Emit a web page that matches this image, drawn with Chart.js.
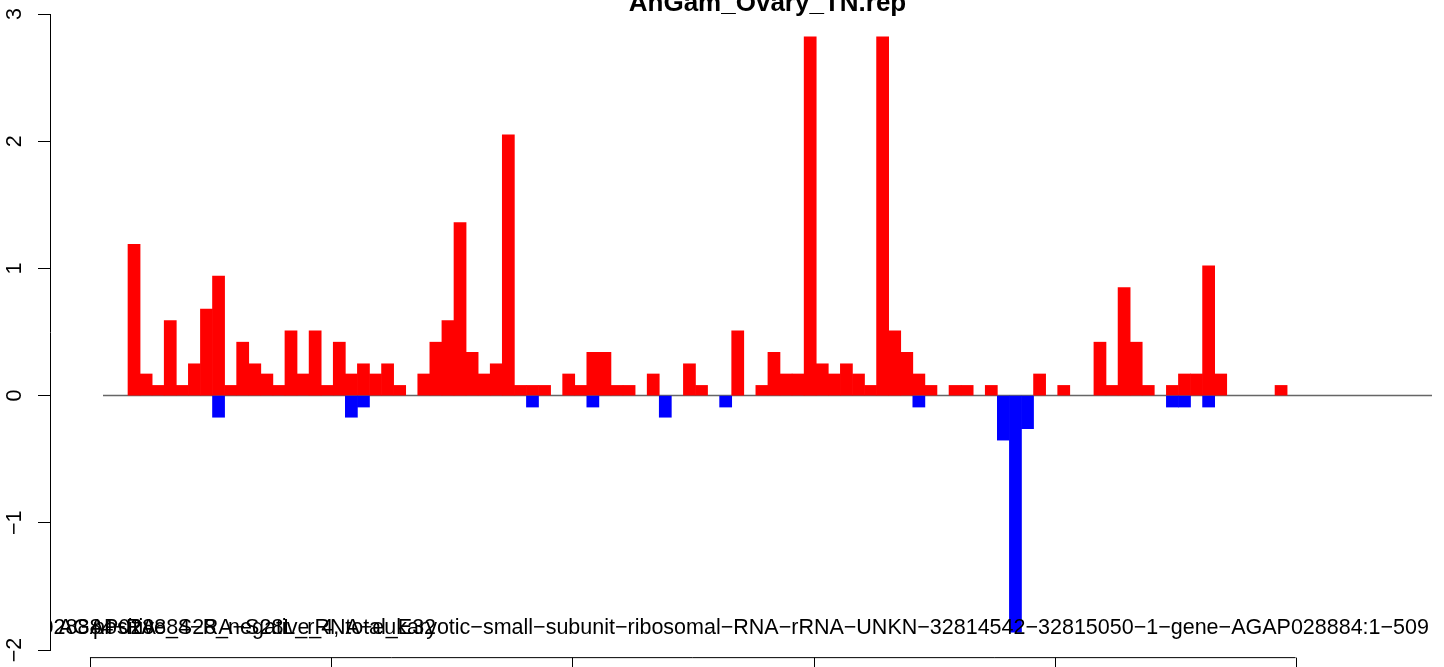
<!DOCTYPE html>
<html>
<head>
<meta charset="utf-8">
<script src="https://cdn.jsdelivr.net/npm/chart.js@4.4.1/dist/chart.umd.min.js"></script>
<style>
html, body { margin: 0; padding: 0; background: #fff; overflow: hidden; }
</style>
</head>
<body>
<canvas id="rep_chart" width="1444" height="667"></canvas>
<script>
// values, one entry per bar (bar i sits on x = i + 0.5)
const chartTitle = 'AnGam_Ovary_TN.rep';
const upValues = [
	1.19, 0.17, 0.08, 0.59, 0.08, 0.25, 0.68, 0.94, 0.08, 0.42,
	0.25, 0.17, 0.08, 0.51, 0.17, 0.51, 0.08, 0.42, 0.17, 0.25,
	0.17, 0.25, 0.08, 0, 0.17, 0.42, 0.59, 1.36, 0.34, 0.17,
	0.25, 2.05, 0.08, 0.08, 0.08, 0, 0.17, 0.08, 0.34, 0.34,
	0.08, 0.08, 0, 0.17, 0, 0, 0.25, 0.08, 0, 0,
	0.51, 0, 0.08, 0.34, 0.17, 0.17, 2.82, 0.25, 0.17, 0.25,
	0.17, 0.08, 2.82, 0.51, 0.34, 0.17, 0.08, 0, 0.08, 0.08,
	0, 0.08, 0, 0, 0, 0.17, 0, 0.08, 0, 0,
	0.42, 0.08, 0.85, 0.42, 0.08, 0, 0.08, 0.17, 0.17, 1.02,
	0.17, 0, 0, 0, 0, 0.08
];
const downValues = [
	0, 0, 0, 0, 0, 0, 0, -0.17, 0, 0,
	0, 0, 0, 0, 0, 0, 0, 0, -0.17, -0.09,
	0, 0, 0, 0, 0, 0, 0, 0, 0, 0,
	0, 0, 0, -0.09, 0, 0, 0, 0, -0.09, 0,
	0, 0, 0, 0, -0.17, 0, 0, 0, 0, -0.09,
	0, 0, 0, 0, 0, 0, 0, 0, 0, 0,
	0, 0, 0, 0, 0, -0.09, 0, 0, 0, 0,
	0, 0, -0.35, -1.86, -0.26, 0, 0, 0, 0, 0,
	0, 0, 0, 0, 0, 0, -0.09, -0.09, 0, -0.09,
	0, 0, 0, 0, 0, 0
];
const yTicks = [-2, -1, 0, 1, 2, 3];
const xRange = [-6.46, 108];          // x units shown in the plot
const zeroLineX = [-2.07, 108];       // extent of the zero line (plot region)
const bottomAxisTicks = [-3.15, 16.85, 36.8, 56.8, 76.75, 96.7];
const bottomAxisLevel = -2.06;
// overlapping sequence names under the bars
const seqLabels = [
	{ text: 'AGAP028884\u2212RA\u2212S28L_rRNA\u2212eukaryotic\u2212small\u2212subunit\u2212ribosomal\u2212RNA\u2212rRNA\u2212UNKN\u221232814542\u221232815050\u22121\u2212gene\u2212AGAP028884:1\u2212509', at: 107.75, align: 'right' },
	{ text: 'positive_S28_negative_4, total_E32', at: -2.9, align: 'left' },
	{ text: 'AGAP028884\u2212RA', at: 2.3, align: 'right' }
];

function toPoints(arr) {
	return arr.map(function(v, i) { return { x: i + 0.5, y: v === 0 ? null : v }; });
}

const FONT = '"Liberation Sans", Arial, Helvetica, sans-serif';

const rPlotExtras = {
	id: 'rPlotExtras',
	afterDraw: function(chart) {
		const ctx = chart.ctx;
		const xs = chart.scales.x;
		const ys = chart.scales.y;
		ctx.save();
		ctx.fillStyle = '#000';
		ctx.strokeStyle = '#000';

		// title, centred over the plot region
		ctx.font = 'bold 26px ' + FONT;
		ctx.textAlign = 'center';
		ctx.textBaseline = 'alphabetic';
		const cx = (xs.getPixelForValue(zeroLineX[0]) + xs.getPixelForValue(zeroLineX[1])) / 2;
		ctx.fillText(chartTitle, cx, 11);

		// y tick labels, parallel to the axis
		ctx.font = '21.5px ' + FONT;
		yTicks.forEach(function(v) {
			const py = ys.getPixelForValue(v);
			const lbl = v < 0 ? '\u2212' + Math.abs(v) : String(v);
			ctx.save();
			ctx.translate(21, py);
			ctx.rotate(-Math.PI / 2);
			ctx.textAlign = 'center';
			ctx.fillText(lbl, 0, 0);
			ctx.restore();
		});

		// sequence names, clipped at the axis
		ctx.save();
		ctx.beginPath();
		ctx.rect(chart.chartArea.left, 0, chart.width - chart.chartArea.left, chart.height);
		ctx.clip();
		ctx.font = '21.5px ' + FONT;
		seqLabels.forEach(function(l) {
			ctx.textAlign = l.align;
			ctx.fillText(l.text, xs.getPixelForValue(l.at), 634);
		});
		ctx.restore();

		// bottom axis
		const by = ys.getPixelForValue(bottomAxisLevel);
		ctx.lineWidth = 1;
		ctx.beginPath();
		ctx.moveTo(xs.getPixelForValue(bottomAxisTicks[0]), by);
		ctx.lineTo(xs.getPixelForValue(bottomAxisTicks[bottomAxisTicks.length - 1]), by);
		bottomAxisTicks.forEach(function(t) {
			const px = Math.round(xs.getPixelForValue(t)) + 0.5;
			ctx.moveTo(px, by);
			ctx.lineTo(px, by + 14);
		});
		ctx.stroke();
		ctx.restore();
	}
};

const context = document.getElementById('rep_chart').getContext('2d');
const repChart = new Chart(context, {
	type: 'bar',
	data: {
		datasets: [
			{
				type: 'line',
				data: [{ x: zeroLineX[0], y: 0 }, { x: zeroLineX[1], y: 0 }],
				borderColor: '#666666',
				borderWidth: 1.5,
				pointRadius: 0,
				order: 3
			},
			{
				data: toPoints(upValues),
				backgroundColor: '#ff0000',
				borderWidth: 0,
				barPercentage: 1,
				categoryPercentage: 1,
				grouped: false,
				order: 2
			},
			{
				data: toPoints(downValues),
				backgroundColor: '#0000ff',
				borderWidth: 0,
				barPercentage: 1,
				categoryPercentage: 1,
				grouped: false,
				order: 1
			}
		]
	},
	options: {
		responsive: false,
		animation: false,
		devicePixelRatio: 1,
		layout: { padding: { left: 0, right: 12, top: 14, bottom: 17 } },
		plugins: {
			legend: { display: false },
			tooltip: { enabled: false },
			title: { display: false }
		},
		scales: {
			x: {
				type: 'linear',
				min: xRange[0],
				max: xRange[1],
				offset: false,
				display: false,
				ticks: { stepSize: 20 }
			},
			y: {
				type: 'linear',
				position: 'left',
				min: yTicks[0],
				max: yTicks[yTicks.length - 1],
				afterFit: function(scale) { scale.width = 50; },
				border: { display: true, color: '#000', width: 1 },
				grid: { drawOnChartArea: false, color: '#000', tickLength: 12, lineWidth: 1 },
				ticks: { display: false, stepSize: 1 }
			}
		}
	},
	plugins: [rPlotExtras]
});
</script>
</body>
</html>
